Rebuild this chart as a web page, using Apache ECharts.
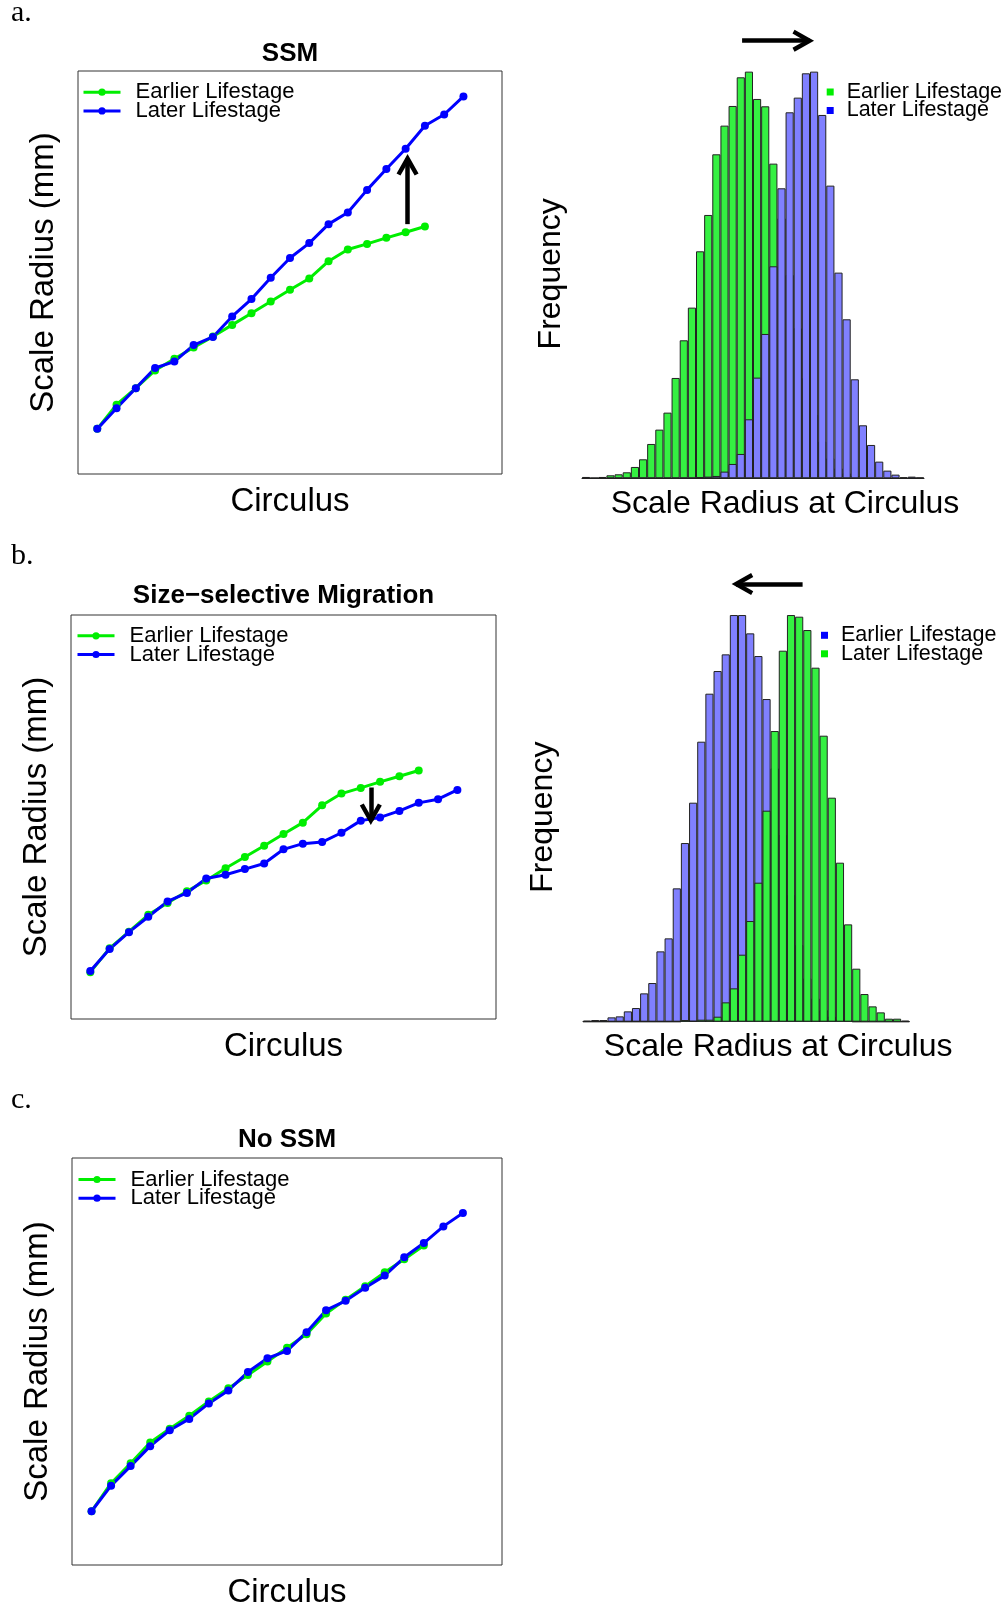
<!DOCTYPE html>
<html><head><meta charset="utf-8">
<script src="https://cdn.jsdelivr.net/npm/echarts@6/dist/echarts.min.js"></script>
<style>html,body{margin:0;padding:0;background:#fff}#c{width:1005px;height:1610px}</style>
</head><body><div id="c"></div>
<script>
// ---------------- DATA ----------------
const circulus = [1,2,3,4,5,6,7,8,9,10,11,12,13,14,15,16,17,18,19,20];
const ssmEarlier = [11.2,17.2,21.3,25.7,28.6,31.4,34.1,37.0,39.9,42.8,45.7,48.5,52.8,55.7,57.1,58.6,60.0,61.4];
const ssmLater   = [11.2,16.3,21.3,26.3,27.9,32.0,34.0,39.1,43.4,48.7,53.6,57.3,62.0,64.9,70.5,75.7,80.7,86.4,89.2,93.7];
const migEarlier = [11.6,17.5,21.6,25.8,28.7,31.6,34.3,37.3,40.1,42.9,45.8,48.6,52.9,55.8,57.2,58.7,60.1,61.5];
const migLater   = [11.9,17.3,21.5,25.3,29.1,31.2,34.8,35.7,37.1,38.5,42.0,43.4,43.8,46.1,49.1,49.9,51.5,53.5,54.4,56.7];
const noEarlier  = [13.2,20.1,25.0,30.1,33.5,36.7,40.2,43.4,46.7,50.0,53.4,56.7,61.8,65.2,68.5,71.9,75.1,78.5];
const noLater    = [13.2,19.5,24.3,29.2,33.1,35.9,39.7,42.9,47.4,50.8,52.6,57.2,62.6,64.9,68.1,71.1,75.6,79.1,83.2,86.5];

// histogram counts per bin of scale radius (SSM panel: 42 bins)
const histSsmEarlier = [4,1,4,9,12,18,34,57,103,146,197,301,414,512,681,790,972,1058,1117,1203,1220,1138,1116,944,780,610,450,300,190,110,60,30,15,7,3,1,0,0,0,0,0,0];
const histSsmLater   = [0,0,0,0,0,0,0,0,0,0,0,0,0,0,3,5,7,20,43,73,177,302,433,636,870,1098,1142,1215,1220,1090,878,617,477,297,159,100,50,23,11,3,5,2];
// size-selective migration panel: 40 bins
const histMigEarlier = [3,5,5,13,16,31,41,85,116,211,250,400,536,657,840,984,1052,1102,1220,1220,1165,1097,968,760,560,380,230,130,70,35,15,6,2,0,0,0,0,0,0,3];
const histMigLater   = [0,0,0,0,0,0,0,0,0,0,0,0,5,2,6,6,15,58,100,201,302,417,633,872,1113,1220,1215,1175,1062,858,672,477,292,159,83,46,28,9,9,0];

// annotation arrows (data units): [x, start y, tip y] / [y, start x, tip x]
const arrowSsm  = [17.1, 62.0, 79.4];
const arrowMig  = [15.52, 57.3, 48.0];
const arrowHistSsm = [1313, 19.66, 28.5];
const arrowHistMig = [1313, 26.92, 18.22];

const lifeLabels = ['Earlier Lifestage', 'Later Lifestage'];

// ---------------- STYLE ----------------
const GREEN = '#00EE00', BLUE = '#0000FF';
const HGREEN = '#35F042', HPURPLE = '#8080FF';
const SANS = 'Liberation Sans, Arial, sans-serif';
const SERIF = 'Liberation Serif, Times New Roman, serif';
const CHEVRON = 'path://M11,-4.5 L22,15 L18.1,17.1 L11,4.7 L3.9,17.1 L0,15 Z M11,-17.1 L11.02,-17.1 L11,-17.08 Z';
const HEAD = 4.5; // px the tip sits ahead of line end

const grids = [
  {left:78, top:71, width:424, height:403},     // line a
  {left:582, top:28.3, width:342, height:450},  // hist a
  {left:71, top:615, width:425, height:404},    // line b
  {left:583, top:571.7, width:326.3, height:450}, // hist b
  {left:72, top:1158, width:430, height:407}    // line c
].map(g => Object.assign({show:true, borderColor:'#333', borderWidth:1, backgroundColor:'transparent', containLabel:false, outerBoundsMode:'none'}, g));
grids[1].show = false; grids[3].show = false;

const hide = {axisLine:{show:false}, axisTick:{show:false}, axisLabel:{show:false}, splitLine:{show:false}};
function lineX(gi, gap){ return Object.assign({type:'value', gridIndex:gi, min:0, max:22, name:'Circulus', nameLocation:'middle', nameGap:gap, nameMoveOverlap:false,
  nameTextStyle:{fontSize:33, fontFamily:SANS, color:'#000'}}, hide); }
function lineY(gi, gap){ return Object.assign({type:'value', gridIndex:gi, min:0, max:100, name:'Scale Radius (mm)', nameLocation:'middle', nameGap:gap, nameMoveOverlap:false,
  nameTextStyle:{fontSize:33, fontFamily:SANS, color:'#000'}}, hide); }
function histX(gi, n, gap){ return Object.assign({type:'value', gridIndex:gi, min:0, max:n, name:'Scale Radius at Circulus', nameLocation:'middle', nameGap:gap, nameMoveOverlap:false,
  nameTextStyle:{fontSize:32, fontFamily:SANS, color:'#000', padding:[0,0,0,64]}}, hide, {axisLine:{show:true, onZero:false, lineStyle:{color:'#222', width:1}}}); }
function histY(gi, gap){ return Object.assign({type:'value', gridIndex:gi, min:0, max:1350, name:'Frequency', nameLocation:'middle', nameGap:gap, nameMoveOverlap:false,
  nameTextStyle:{fontSize:32, fontFamily:SANS, color:'#000', padding:[0,41,0,0]}}, hide); }

function lineSeries(name, gi, vals, color){
  return {type:'line', name, xAxisIndex:gi, yAxisIndex:gi, data: vals.map((v,i)=>[circulus[i], v]),
    symbol:'circle', symbolSize:8, showSymbol:true, lineStyle:{width:3, color}, itemStyle:{color},
    silent:true, emphasis:{disabled:true}, animation:false};
}
function histSeries(name, gi, counts, color){
  return {type:'bar', name, xAxisIndex:gi, yAxisIndex:gi, data: counts.map((v,i)=>[i+0.5, v]),
    barGap:'-100%', barCategoryGap:'0%', itemStyle:{color, borderColor:'#222', borderWidth:1},
    silent:true, emphasis:{disabled:true}, animation:false};
}
function vArrow(a, gridH){ const d = HEAD * 100 / gridH * Math.sign(a[2]-a[1]);
  return {silent:true, symbol:['none', CHEVRON], symbolSize:[22, 34.2], animation:false,
    lineStyle:{color:'#000', width:4.5, type:'solid'}, label:{show:false}, emphasis:{disabled:true},
    data:[[{coord:[a[0], a[1]]}, {coord:[a[0], a[2]-d]}]]}; }
function hArrow(a, n, gridW){ const d = HEAD * n / gridW * Math.sign(a[2]-a[1]);
  return {silent:true, symbol:['none', CHEVRON], symbolSize:[22, 34.2], animation:false,
    lineStyle:{color:'#000', width:4.5, type:'solid'}, label:{show:false}, emphasis:{disabled:true},
    data:[[{coord:[a[1], a[0]]}, {coord:[a[2]-d, a[0]]}]]}; }

const s = [
  lineSeries('a1:'+lifeLabels[0], 0, ssmEarlier, GREEN),
  Object.assign(lineSeries('a1:'+lifeLabels[1], 0, ssmLater, BLUE), {markLine: vArrow(arrowSsm, 403)}),
  histSeries('a2:'+lifeLabels[0], 1, histSsmEarlier, HGREEN),
  Object.assign(histSeries('a2:'+lifeLabels[1], 1, histSsmLater, HPURPLE), {markLine: hArrow(arrowHistSsm, 42, 342)}),
  lineSeries('b1:'+lifeLabels[0], 2, migEarlier, GREEN),
  Object.assign(lineSeries('b1:'+lifeLabels[1], 2, migLater, BLUE), {markLine: vArrow(arrowMig, 404)}),
  histSeries('b2:'+lifeLabels[0], 3, histMigEarlier, HPURPLE),
  Object.assign(histSeries('b2:'+lifeLabels[1], 3, histMigLater, HGREEN), {markLine: hArrow(arrowHistMig, 40, 326.3)}),
  lineSeries('c1:'+lifeLabels[0], 4, noEarlier, GREEN),
  lineSeries('c1:'+lifeLabels[1], 4, noLater, BLUE)
];

function lineLegend(p, left, top, pad){
  return {orient:'vertical', left, top, padding:0, itemGap:-3.3, itemWidth:37, itemHeight:9, selectedMode:false,
    lineStyle:{width:3}, data:[p+lifeLabels[0], p+lifeLabels[1]], formatter: n => n.slice(3),
    textStyle:{fontSize:22, fontFamily:SANS, color:'#000', lineHeight:19, padding:[0,0,0,pad]}};
}
function histLegend(p, left, top, pad, c1, c2){
  return {orient:'vertical', left, top, padding:0, itemGap:-3.5, itemWidth:7, itemHeight:7, selectedMode:false,
    data:[{name:p+lifeLabels[0], icon:'rect', itemStyle:{color:c1, borderWidth:0}},
          {name:p+lifeLabels[1], icon:'rect', itemStyle:{color:c2, borderWidth:0}}],
    formatter: n => n.slice(3),
    textStyle:{fontSize:21.5, fontFamily:SANS, color:'#000', lineHeight:18.5, padding:[0,0,0,pad]}};
}

function ttl(text, left, top, size, bold, family, align){
  return {text, left, top, padding:0, textAlign:align||'left', textVerticalAlign:'top',
    textStyle:{fontSize:size, fontWeight:bold?'bold':'normal', fontFamily:family, color:'#000'}};
}

const option = {
  backgroundColor:'#fff',
  animation:false,
  title:[
    ttl('a.', 11, -2, 30, false, SERIF),
    ttl('b.', 11, 541, 30, false, SERIF),
    ttl('c.', 11, 1085, 30, false, SERIF),
    ttl('SSM', 290, 41, 26, true, SANS, 'center'),
    ttl('Size\u2212selective Migration', 283.5, 583, 26, true, SANS, 'center'),
    ttl('No SSM', 287, 1127, 26, true, SANS, 'center')
  ],
  legend:[
    lineLegend('a1:', 82, 81.2, 10),
    histLegend('a2:', 826.7, 81, 8, GREEN, BLUE),
    lineLegend('b1:', 76, 624.8, 10),
    histLegend('b2:', 821, 624.3, 8, BLUE, GREEN),
    lineLegend('c1:', 77, 1168.5, 10)
  ],
  grid: grids,
  xAxis:[lineX(0,11), histX(1,42,9.5), lineX(2,11), histX(3,40,9.5), lineX(4,11)],
  yAxis:[lineY(0,18), histY(1,15), lineY(2,18), histY(3,24), lineY(4,18)],
  series: s
};
const chart = echarts.init(document.getElementById('c'), null, {renderer:'canvas'});
chart.setOption(option);
</script></body></html>
